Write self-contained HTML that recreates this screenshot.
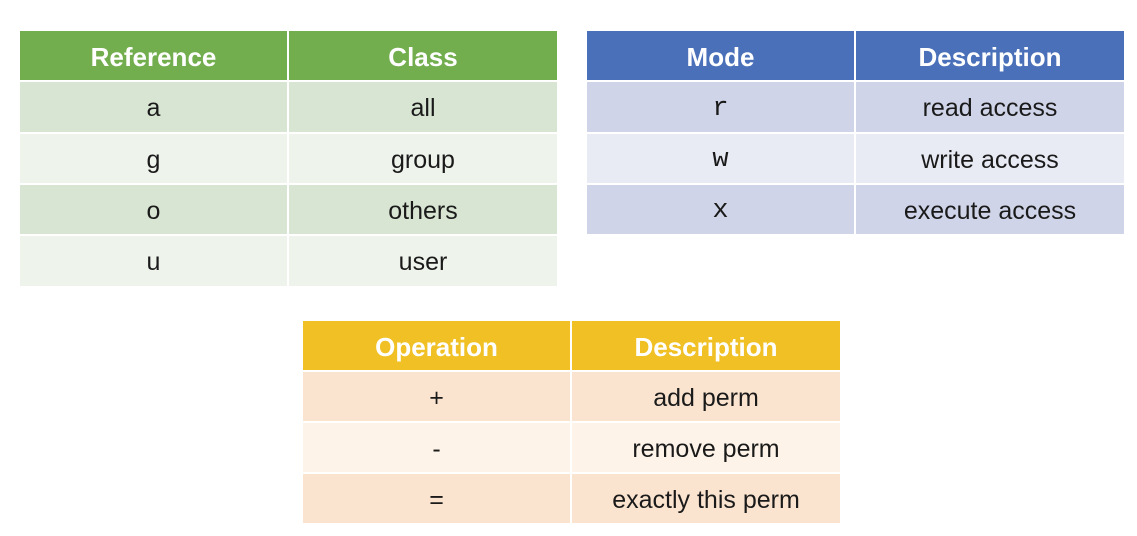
<!DOCTYPE html>
<html><head><meta charset="utf-8"><style>
body{margin:0;width:1137px;height:536px;background:#fff;position:relative;overflow:hidden;font-family:"Liberation Sans",sans-serif;}
.c{position:absolute;display:flex;align-items:center;justify-content:center;font-size:25px;color:#1a1a1a;padding-top:3px;box-sizing:border-box;}
.h{color:#fff;font-weight:bold;font-size:26px;}
.m{font-family:"Liberation Mono",monospace;font-size:27px;}
</style></head><body>
<!-- green -->
<div class="c h" style="left:20px;top:31px;width:267px;height:49px;background:#72ae4e">Reference</div>
<div class="c h" style="left:289px;top:31px;width:268px;height:49px;background:#72ae4e">Class</div>
<div class="c" style="left:20px;top:82px;width:267px;height:50px;background:#d8e5d2">a</div>
<div class="c" style="left:289px;top:82px;width:268px;height:50px;background:#d8e5d2">all</div>
<div class="c" style="left:20px;top:134px;width:267px;height:49px;background:#eef3ec">g</div>
<div class="c" style="left:289px;top:134px;width:268px;height:49px;background:#eef3ec">group</div>
<div class="c" style="left:20px;top:185px;width:267px;height:49px;background:#d8e5d2">o</div>
<div class="c" style="left:289px;top:185px;width:268px;height:49px;background:#d8e5d2">others</div>
<div class="c" style="left:20px;top:236px;width:267px;height:50px;background:#eef3ec">u</div>
<div class="c" style="left:289px;top:236px;width:268px;height:50px;background:#eef3ec">user</div>
<!-- blue -->
<div class="c h" style="left:587px;top:31px;width:267px;height:49px;background:#4a70b9">Mode</div>
<div class="c h" style="left:856px;top:31px;width:268px;height:49px;background:#4a70b9">Description</div>
<div class="c m" style="left:587px;top:82px;width:267px;height:50px;background:#cfd4e8">r</div>
<div class="c" style="left:856px;top:82px;width:268px;height:50px;background:#cfd4e8">read access</div>
<div class="c m" style="left:587px;top:134px;width:267px;height:49px;background:#e8eaf4">w</div>
<div class="c" style="left:856px;top:134px;width:268px;height:49px;background:#e8eaf4">write access</div>
<div class="c m" style="left:587px;top:185px;width:267px;height:49px;background:#cfd4e8">x</div>
<div class="c" style="left:856px;top:185px;width:268px;height:49px;background:#cfd4e8">execute access</div>
<!-- yellow -->
<div class="c h" style="left:303px;top:321px;width:267px;height:49px;background:#f0c024">Operation</div>
<div class="c h" style="left:572px;top:321px;width:268px;height:49px;background:#f0c024">Description</div>
<div class="c" style="left:303px;top:372px;width:267px;height:49px;background:#fbe4cf">+</div>
<div class="c" style="left:572px;top:372px;width:268px;height:49px;background:#fbe4cf">add perm</div>
<div class="c" style="left:303px;top:423px;width:267px;height:49px;background:#fdf3e8">-</div>
<div class="c" style="left:572px;top:423px;width:268px;height:49px;background:#fdf3e8">remove perm</div>
<div class="c" style="left:303px;top:474px;width:267px;height:49px;background:#fbe4cf">=</div>
<div class="c" style="left:572px;top:474px;width:268px;height:49px;background:#fbe4cf">exactly this perm</div>
</body></html>
